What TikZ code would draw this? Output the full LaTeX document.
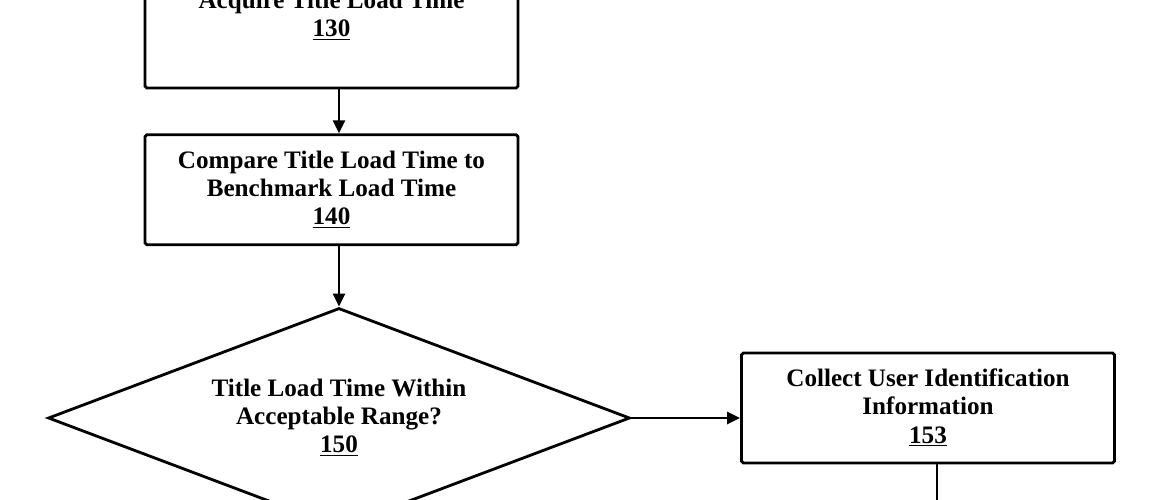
\documentclass[tikz,border=0pt]{standalone}
\usepackage{fontspec}
\setmainfont{Liberation Serif}
\usetikzlibrary{arrows.meta,positioning,shapes.geometric}
\tikzset{
  stepbox/.style={draw=black,line width=1.6pt,rounded corners=1pt,align=center,
    minimum width=7.46cm,minimum height=2.2cm,inner sep=2pt,
    font=\fontsize{14.3}{16}\selectfont\bfseries},
  query/.style={draw=black,line width=1.6pt,diamond,aspect=2.65,align=center,inner sep=0pt,
    minimum width=11.64cm,minimum height=4.4cm,
    font=\fontsize{14.3}{16}\selectfont\bfseries},
  arrow/.style={-{Triangle[length=2.6mm,width=2.4mm]},draw=black,line width=1.6pt},
  link/.style={draw=black,line width=1.6pt}
}
\begin{document}
\begin{tikzpicture}[x=0.02cm,y=-0.02cm,node distance=0.88cm]
  \path[use as bounding box,clip] (0,0) rectangle (1170,500);
  \node[stepbox,minimum height=2.88cm] (b130) at (331.5,16) {Acquire Title Load Time\\\underline{130}};
  \node[stepbox,below=of b130] (b140) {Compare Title Load Time to\\Benchmark Load Time\\\underline{140}};
  \node[query] (d150) at (339,418) {Title Load Time Within\\Acceptable Range?\\\underline{150}};
  \node[stepbox] (b153) at (928,408) {Collect User Identification\\Information\\\underline{153}};
  \coordinate (c153) at (937,520);
  \draw[arrow] (b130.south -| d150.north) -- (b140.north -| d150.north);
  \draw[arrow] (b140.south -| d150.north) -- (d150.north);
  \draw[arrow] (d150.east) -- (d150.east -| b153.west);
  \draw[link] (b153.south -| c153) -- (c153);
\end{tikzpicture}
\end{document}
